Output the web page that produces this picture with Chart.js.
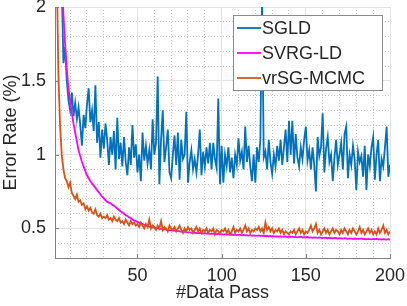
<!DOCTYPE html>
<html lang="en">
<head>
  <meta charset="UTF-8" />
  <title>Error rate vs data pass</title>
  <script src="https://cdn.jsdelivr.net/npm/chart.js"></script>
  <style>
    body { margin: 0; background: #ffffff; }
    canvas { display: block; }
  </style>
</head>
<body>
  <canvas id="errChart" width="407" height="306"></canvas>

  <script>
    // x: number of data passes, 1..200
    const passes = Array.from({ length: 200 }, (_, i) => i + 1);

    const sgld = [
      3.6, 3.1, 2.7, 2.4, 2.15, 1.62, 1.73, 1.5, 1.37, 1.3,
      1.42, 1.26, 1.35, 1.24, 1.32, 1.2, 1.06, 1.27, 1.18, 1.34,
      1.45, 1.22, 1.3, 1.16, 1.47, 1.08, 1.22, 0.98, 1.17, 1.04,
      1.21, 1.1, 0.93, 1.12, 1.0, 1.16, 0.9, 1.25, 0.97, 1.08,
      0.92, 1.12, 0.95, 0.86, 1.05, 0.93, 1.2, 0.98, 1.07, 0.88,
      1.0, 0.82, 1.15, 0.96, 1.06, 0.94, 1.03, 0.9, 1.24, 1.0,
      1.08, 1.53, 0.8, 1.1, 1.3, 0.95, 1.05, 1.17, 0.88, 0.84,
      1.0, 1.13, 0.93, 1.15, 0.83, 1.1, 0.97, 1.0, 1.29, 0.81,
      0.95, 1.03, 0.9, 0.97, 0.88, 1.0, 1.17, 0.86, 1.02, 0.92,
      1.05, 0.94, 1.08, 0.9, 1.08, 0.97, 0.91, 1.38, 0.8, 1.06,
      0.81, 1.0, 0.92, 1.05, 0.88, 0.98, 0.84, 1.0, 0.93, 1.11,
      0.96, 1.02, 0.9, 1.19, 0.95, 1.06, 0.92, 0.82, 1.0, 0.81,
      1.05, 0.95, 1.1, 2.1, 0.98, 1.02, 0.9, 1.1, 0.95, 0.87,
      1.0, 0.92, 1.06, 0.96, 1.1, 0.93, 1.05, 1.17, 0.95, 1.23,
      1.0, 1.23, 0.94, 1.14, 0.98, 0.92, 1.05, 0.97, 1.1, 1.19,
      0.96, 1.03, 0.9, 1.05, 0.93, 0.75, 1.12, 0.99, 1.05, 1.28,
      0.88, 1.04, 1.12, 0.95, 1.0, 0.82, 0.98, 1.1, 0.93, 1.0,
      1.08, 0.9, 1.14, 1.19, 0.84, 1.0, 0.93, 1.06, 0.97, 0.76,
      1.02, 0.95, 0.99, 0.85, 1.06, 0.76, 1.0, 0.92, 1.05, 1.12,
      0.83, 1.0, 1.1, 0.82, 0.97, 0.92, 1.05, 1.19, 0.85, 0.93
    ];

    const svrgld = [
      5.0, 3.8, 3.0, 2.5, 2.2, 1.95, 1.75, 1.58, 1.45, 1.36,
      1.28, 1.21, 1.15, 1.09, 1.03, 0.99, 0.95, 0.92, 0.89, 0.86,
      0.84, 0.82, 0.805, 0.79, 0.775, 0.76, 0.745, 0.73, 0.715, 0.705,
      0.69, 0.68, 0.675, 0.67, 0.66, 0.655, 0.645, 0.635, 0.625, 0.615,
      0.61, 0.6, 0.59, 0.585, 0.575, 0.57, 0.56, 0.555, 0.55, 0.545,
      0.54, 0.535, 0.53, 0.525, 0.52, 0.517, 0.512, 0.51, 0.507, 0.505,
      0.503, 0.5, 0.499, 0.497, 0.495, 0.494, 0.492, 0.49, 0.489, 0.487,
      0.486, 0.485, 0.483, 0.482, 0.48, 0.479, 0.478, 0.477, 0.475, 0.474,
      0.473, 0.472, 0.47, 0.471, 0.469, 0.468, 0.47, 0.467, 0.466, 0.468,
      0.465, 0.466, 0.464, 0.463, 0.465, 0.462, 0.461, 0.463, 0.46, 0.461,
      0.459, 0.461, 0.458, 0.46, 0.457, 0.459, 0.456, 0.458, 0.455, 0.457,
      0.456, 0.454, 0.457, 0.453, 0.455, 0.452, 0.455, 0.451, 0.453, 0.452,
      0.45, 0.453, 0.449, 0.451, 0.448, 0.45, 0.449, 0.447, 0.45, 0.446,
      0.448, 0.445, 0.447, 0.444, 0.446, 0.445, 0.443, 0.446, 0.442, 0.444,
      0.443, 0.445, 0.441, 0.443, 0.44, 0.442, 0.444, 0.44, 0.441, 0.439,
      0.442, 0.438, 0.44, 0.437, 0.44, 0.438, 0.436, 0.439, 0.437, 0.435,
      0.438, 0.436, 0.434, 0.437, 0.435, 0.433, 0.436, 0.434, 0.432, 0.435,
      0.433, 0.431, 0.434, 0.432, 0.43, 0.433, 0.431, 0.429, 0.432, 0.43,
      0.431, 0.429, 0.432, 0.428, 0.43, 0.427, 0.43, 0.428, 0.426, 0.429,
      0.427, 0.43, 0.426, 0.428, 0.425, 0.428, 0.426, 0.424, 0.427, 0.425
    ];

    const vrsgmcmc = [
      3.5, 2.3, 1.55, 1.2, 1.0, 0.9, 0.84, 0.82, 0.78, 0.81,
      0.74, 0.72, 0.7, 0.73, 0.68, 0.69, 0.66, 0.67, 0.63, 0.65,
      0.62, 0.64, 0.61, 0.6, 0.63, 0.59, 0.58, 0.6, 0.57, 0.58,
      0.57, 0.59, 0.56, 0.57, 0.55, 0.58, 0.56, 0.55, 0.57, 0.54,
      0.55, 0.53, 0.56, 0.54, 0.52, 0.55, 0.53, 0.54, 0.52, 0.53,
      0.51, 0.54, 0.52, 0.5, 0.53, 0.51, 0.56, 0.5, 0.52, 0.51,
      0.49, 0.52, 0.5, 0.55, 0.49, 0.51, 0.5, 0.48, 0.52, 0.5,
      0.49, 0.51, 0.48, 0.5, 0.52, 0.49, 0.47, 0.5, 0.48, 0.51,
      0.49, 0.5, 0.47, 0.49, 0.51, 0.48, 0.5, 0.47, 0.49, 0.48,
      0.5, 0.47, 0.49, 0.48, 0.5, 0.46, 0.49, 0.48, 0.47, 0.49,
      0.48, 0.5, 0.47, 0.49, 0.46, 0.48, 0.51, 0.47, 0.49, 0.48,
      0.5, 0.47, 0.49, 0.52, 0.48, 0.5, 0.47, 0.49, 0.48, 0.5,
      0.49, 0.51, 0.48, 0.5, 0.47, 0.54, 0.49, 0.51, 0.48, 0.5,
      0.47, 0.49, 0.48, 0.5, 0.47, 0.49, 0.46, 0.48, 0.47, 0.46,
      0.48, 0.47, 0.49, 0.46, 0.48, 0.5, 0.47, 0.49, 0.46, 0.48,
      0.47, 0.49, 0.52, 0.48, 0.5, 0.53, 0.47, 0.49, 0.46, 0.48,
      0.5, 0.47, 0.49, 0.46, 0.48, 0.5, 0.47, 0.49, 0.48, 0.46,
      0.49, 0.47, 0.5, 0.48, 0.46, 0.49, 0.47, 0.5, 0.48, 0.46,
      0.48, 0.51, 0.47, 0.49, 0.46, 0.48, 0.5, 0.47, 0.49, 0.46,
      0.48, 0.46, 0.5, 0.47, 0.49, 0.52, 0.47, 0.49, 0.46, 0.48
    ];

    const seriesNames = ['SGLD', 'SVRG-LD', 'vrSG-MCMC'];
    const seriesColors = ['#0072BD', '#FF00FF', '#D95319'];

    const xMajor = [50, 100, 150, 200];
    const xMinor = [10, 20, 30, 40, 60, 70, 80, 90, 110, 120, 130, 140, 160, 170, 180, 190];
    const yMajor = [0.5, 1, 1.5, 2];
    const yMinor = [0.3, 0.4, 0.6, 0.7, 0.8, 0.9, 1.1, 1.2, 1.3, 1.4, 1.6, 1.7, 1.8, 1.9];

    const FONT = "'Liberation Sans', Arial, sans-serif";
    const axisGrey = '#808080';
    const textCol = '#262626';

    function pts(vals) {
      return passes.map((p, i) => ({ x: p, y: vals[i] }));
    }

    function setTicks(list) {
      return s => { s.ticks = list.map(v => ({ value: v })); };
    }

    function noPad(s) {
      s.paddingLeft = 0; s.paddingRight = 0; s.paddingTop = 0; s.paddingBottom = 0;
    }

    // legend box drawn inside the plot, like the matlab one
    const boxLegend = {
      id: 'boxLegend',
      afterDraw(chart) {
        const c = chart.ctx;
        const bx = 233.5, by = 15.5, bw = 149, bh = 75;
        c.save();
        c.fillStyle = '#ffffff';
        c.fillRect(bx, by, bw, bh);
        c.strokeStyle = '#8c8c8c';
        c.lineWidth = 1;
        c.strokeRect(bx, by, bw, bh);
        c.font = '18px ' + FONT;
        c.textBaseline = 'middle';
        c.fillStyle = textCol;
        chart.data.datasets.forEach((ds, i) => {
          const ly = 28 + i * 25;
          c.strokeStyle = ds.borderColor;
          c.lineWidth = 1.8;
          c.beginPath();
          c.moveTo(237, ly);
          c.lineTo(261, ly);
          c.stroke();
          c.fillText(ds.label, 262, ly + 1);
        });
        // inward tick marks on the two drawn axes
        const xs = chart.scales.x, ys = chart.scales.y, a = chart.chartArea;
        c.strokeStyle = axisGrey;
        c.lineWidth = 1;
        c.beginPath();
        xMajor.forEach(v => {
          const px = Math.round(xs.getPixelForValue(v)) + 0.5;
          c.moveTo(px, a.bottom); c.lineTo(px, a.bottom - 4);
        });
        yMajor.forEach(v => {
          const py = Math.round(ys.getPixelForValue(v)) + 0.5;
          c.moveTo(a.left, py); c.lineTo(a.left + 4, py);
        });
        c.stroke();
        c.restore();
      }
    };

    new Chart(document.getElementById('errChart'), {
      type: 'line',
      data: {
        datasets: [0, 1, 2].map(i => ({
          label: seriesNames[i],
          data: pts([sgld, svrgld, vrsgmcmc][i]),
          borderColor: seriesColors[i],
          backgroundColor: seriesColors[i],
          borderWidth: 1.8,
          pointRadius: 0,
          tension: 0,
          order: 3 - i
        }))
      },
      options: {
        responsive: false,
        animation: false,
        layout: { padding: { top: 7, right: 17, left: 0, bottom: 0 } },
        plugins: { legend: { display: false }, tooltip: { enabled: false } },
        scales: {
          xMinorGrid: {
            type: 'linear', position: 'bottom', min: 1, max: 200,
            afterBuildTicks: setTicks(xMinor),
            ticks: { display: false },
            grid: { color: 'rgba(0,0,0,0.22)', drawTicks: false },
            border: { display: false, dash: [1, 2] },
            afterFit: s => { s.height = 0; noPad(s); }
          },
          yMinorGrid: {
            type: 'linear', position: 'left', min: 0.3, max: 2,
            afterBuildTicks: setTicks(yMinor),
            ticks: { display: false },
            grid: { color: 'rgba(0,0,0,0.22)', drawTicks: false },
            border: { display: false, dash: [1, 2] },
            afterFit: s => { s.width = 0; noPad(s); }
          },
          x: {
            type: 'linear', position: 'bottom', min: 1, max: 200,
            afterBuildTicks: setTicks(xMajor),
            grid: { color: '#e3e3e3', drawTicks: false },
            border: { display: true, color: axisGrey, width: 1 },
            ticks: {
              color: textCol, padding: 7, maxRotation: 0,
              font: { family: FONT, size: 18 },
              callback: v => String(v)
            },
            title: {
              display: true, text: '#Data Pass', color: textCol,
              font: { family: FONT, size: 18 },
              padding: { top: 0, bottom: 2 }
            },
            afterFit: s => { s.height = 48; noPad(s); }
          },
          y: {
            type: 'linear', position: 'left', min: 0.3, max: 2,
            afterBuildTicks: setTicks(yMajor),
            grid: { color: '#e3e3e3', drawTicks: false },
            border: { display: true, color: axisGrey, width: 1 },
            ticks: {
              color: textCol, padding: 9,
              font: { family: FONT, size: 18 },
              callback: v => String(v)
            },
            title: {
              display: true, text: 'Error Rate (%)', color: textCol,
              font: { family: FONT, size: 18 },
              padding: { top: 0, bottom: 0 }
            },
            afterFit: s => { s.width = 55; noPad(s); }
          }
        }
      },
      plugins: [boxLegend]
    });
  </script>
</body>
</html>
